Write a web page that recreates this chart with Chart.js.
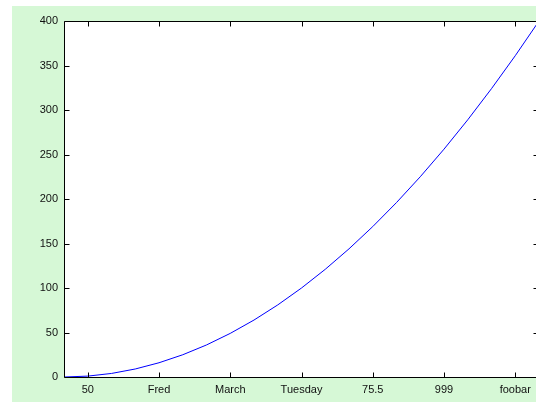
<!DOCTYPE html>
<html>
<head>
<meta charset="utf-8">
<script src="https://cdn.jsdelivr.net/npm/chart.js@4/dist/chart.umd.min.js"></script>
<style>
  html, body { margin: 0; padding: 0; background: #ffffff; overflow: hidden; }
  #wrap { position: absolute; left: 12px; top: 6px; }
  #plot { display: block; background: rgb(214, 248, 214); }
</style>
</head>
<body>
<div id="wrap"><canvas id="plot" width="527" height="396"></canvas></div>
<script>
// Samples of y = x^2
const xValues = [0, 1, 2, 3, 4, 5, 6, 7, 8, 9, 10, 11, 12, 13, 14, 15, 16, 17, 18, 19, 20];
const yValues = [0, 1, 4, 9, 16, 25, 36, 49, 64, 81, 100, 121, 144, 169, 196, 225, 256, 289, 324, 361, 400];

// Custom x tick positions and their text labels
const xTickPositions = [1, 4, 7, 10, 13, 16, 19];
const xTickLabels = ['50', 'Fred', 'March', 'Tuesday', '75.5', '999', 'foobar'];

// y ticks
const yTickValues = [0, 50, 100, 150, 200, 250, 300, 350, 400];

const points = xValues.map((x, i) => ({ x: x, y: yValues[i] }));

// White plot background inside the axes
const plotBackground = {
  id: 'plotBackground',
  beforeDatasetsDraw(chart) {
    const { ctx, chartArea: a } = chart;
    ctx.save();
    ctx.fillStyle = '#ffffff';
    ctx.fillRect(a.left, a.top, a.right - a.left, a.bottom - a.top);
    ctx.restore();
  }
};

// Draws a closed axis box with inward-pointing tick marks on all four sides
const boxAxes = {
  id: 'boxAxes',
  afterDraw(chart) {
    const { ctx, chartArea: a, scales } = chart;
    const L = Math.round(a.left) + 0.5, R = Math.round(a.right) - 0.5;
    const T = Math.round(a.top) + 0.5, B = Math.round(a.bottom) + 0.5;
    const len = 5;
    ctx.save();
    ctx.strokeStyle = '#000000';
    ctx.lineWidth = 1;
    ctx.beginPath();
    ctx.rect(L, T, R - L, B - T);
    xTickPositions.forEach(v => {
      const px = Math.round(scales.x.getPixelForValue(v)) + 0.5;
      ctx.moveTo(px, B); ctx.lineTo(px, B - len);
      ctx.moveTo(px, T); ctx.lineTo(px, T + len);
    });
    yTickValues.forEach(v => {
      const py = Math.round(scales.y.getPixelForValue(v)) + 0.5;
      ctx.moveTo(L, py); ctx.lineTo(L + len, py);
      ctx.moveTo(R, py); ctx.lineTo(R - len, py);
    });
    ctx.stroke();
    ctx.restore();
  }
};

new Chart(document.getElementById('plot'), {
  type: 'line',
  data: {
    datasets: [{
      data: points,
      borderColor: '#0000ff',
      borderWidth: 1,
      pointRadius: 0,
      tension: 0,
      fill: false
    }]
  },
  options: {
    responsive: false,
    animation: false,
    events: [],
    layout: { padding: { top: 15, left: 0, right: 0, bottom: 0 } },
    plugins: { legend: { display: false }, tooltip: { enabled: false } },
    scales: {
      x: {
        type: 'linear',
        min: 0,
        max: 20,
        grid: { display: false, drawTicks: false },
        border: { display: false },
        afterBuildTicks(scale) {
          scale.ticks = xTickPositions.map(v => ({ value: v }));
        },
        afterFit(scale) { scale.height = 25; },
        ticks: {
          autoSkip: false,
          maxRotation: 0,
          padding: 6,
          color: '#111111',
          font: { family: 'Liberation Sans, Arial, sans-serif', size: 11 },
          callback(value) {
            const i = xTickPositions.indexOf(value);
            return i >= 0 ? xTickLabels[i] : '';
          }
        }
      },
      y: {
        type: 'linear',
        min: 0,
        max: 400,
        grid: { display: false, drawTicks: false },
        border: { display: false },
        afterBuildTicks(scale) {
          scale.ticks = yTickValues.map(v => ({ value: v }));
        },
        afterFit(scale) { scale.width = 52; },
        ticks: {
          padding: 6,
          color: '#111111',
          font: { family: 'Liberation Sans, Arial, sans-serif', size: 11 }
        }
      }
    }
  },
  plugins: [plotBackground, boxAxes]
});
</script>
</body>
</html>
